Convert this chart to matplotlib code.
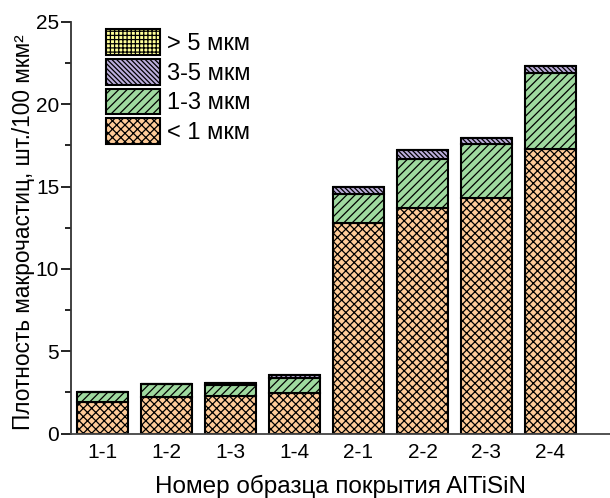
import numpy as np
import matplotlib
matplotlib.use("Agg")
import matplotlib.pyplot as plt

# ── DATA ────────────────────────────────────────────────────────────────────
samples  = ["1-1", "1-2", "1-3", "1-4", "2-1", "2-2", "2-3", "2-4"]
lt1      = [1.90, 2.20, 2.28, 2.44, 12.77, 13.68, 14.29, 17.30]   # < 1 мкм
s1_3     = [0.60, 0.78, 0.65, 0.91, 1.78, 2.98, 3.28, 4.62]       # 1-3 мкм
s3_5     = [0.04, 0.05, 0.12, 0.22, 0.45, 0.54, 0.38, 0.43]       # 3-5 мкм
gt5      = [0.00, 0.00, 0.03, 0.00, 0.00, 0.00, 0.00, 0.00]       # > 5 мкм
labels   = ["< 1 мкм", "1-3 мкм", "3-5 мкм", "> 5 мкм"]
# ────────────────────────────────────────────────────────────────────────────

plt.rcParams["font.family"] = ["Liberation Sans", "DejaVu Sans"]
plt.rcParams["hatch.linewidth"] = 0.9

fig = plt.figure(figsize=(6.1, 4.98), dpi=100)
ax = fig.add_axes([0.1164, 0.1295, 0.8836, 0.8265])

x = np.arange(len(samples))
series = [lt1, s1_3, s3_5, gt5]
colors = ["#FFCC99", "#9FD99F", "#BCAEDC", "#FFFF99"]
hatches = ["xxxx", "////", "\\" * 7, "++++"]

bottom = np.zeros(len(samples))
handles = []
for vals, col, h, lab in zip(series, colors, hatches, labels):
    b = ax.bar(x, vals, 0.8, bottom=bottom, color=col, edgecolor="black",
               linewidth=1.5, hatch=h, label=lab)
    handles.append(b)
    bottom += np.array(vals)

ax.set_xlim(-0.49, 7.93)
ax.set_ylim(0, 25)
ax.set_xticks(x)
ax.set_xticklabels(samples)
ax.set_yticks([0, 5, 10, 15, 20, 25])
ax.set_yticks(np.arange(2.5, 25, 5), minor=True)
ax.tick_params(axis="x", length=0, labelsize=15, pad=7)
ax.tick_params(axis="y", which="major", length=7, width=1.2, labelsize=15, pad=1.5)
ax.tick_params(axis="y", which="minor", length=4, width=1.2)

for s in ["top", "right"]:
    ax.spines[s].set_visible(False)
ax.spines["left"].set_color("#333333")
ax.spines["bottom"].set_color("#444444")
ax.spines["left"].set_linewidth(1.3)
ax.spines["bottom"].set_linewidth(1.3)

ax.set_xlabel("Номер образца покрытия AlTiSiN", fontsize=17.5, labelpad=9)
ax.set_ylabel("Плотность макрочастиц, шт./100 мкм²", fontsize=16.3)
ax.yaxis.set_label_coords(-0.066, 0.49)

ax.legend(handles[::-1], labels[::-1], loc="upper left",
          bbox_to_anchor=(0.038, 1.017), frameon=False, fontsize=17,
          handlelength=2.3, handleheight=1.3, handletextpad=0.3,
          labelspacing=0.17, borderaxespad=0.2)

fig.savefig("out.png", dpi=100)
